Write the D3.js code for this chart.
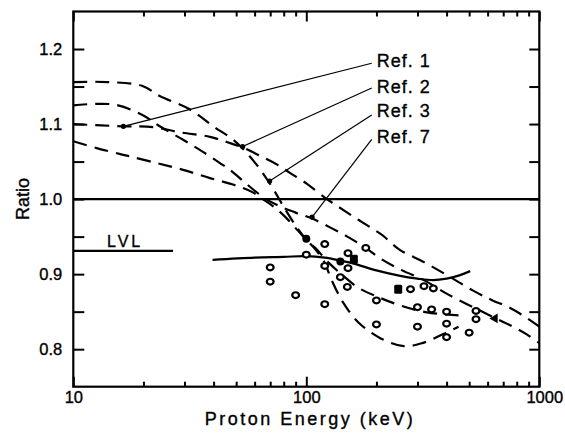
<!DOCTYPE html>
<html>
<head>
<meta charset="utf-8">
<script src="https://cdn.jsdelivr.net/npm/d3@7"></script>
<style>
body { margin: 0; background: #fff; }
text { font-family: "Liberation Sans", Arial, Helvetica, sans-serif; fill: #000; stroke: #000; stroke-width: 0.35px; }
</style>
</head>
<body>
<div id="chart"></div>
<script>
// ----------------------------------------------------------
// Datos (energia keV, ratio)
// ----------------------------------------------------------
const xMajorTicks = [10, 100, 1000];
const xMinorTicks = [20, 30, 40, 50, 60, 70, 80, 90, 200, 300, 400, 500, 600, 700, 800, 900];
const yLabelTicks = [0.8, 0.9, 1.0, 1.1, 1.2];
const yAllTicks = [0.8, 0.85, 0.9, 0.95, 1.0, 1.05, 1.1, 1.15, 1.2];

const dashedA = [[10,1.156],[14,1.156],[19.7,1.151],[23.6,1.137],[31.4,1.12],[39.9,1.097],[49.9,1.076],[60.8,1.047],[71.3,1.016],[80.2,0.989],[90.3,0.964],[100,0.946],[110,0.934],[125,0.915],[145,0.897],[167,0.882],[205,0.869],[255,0.858],[330,0.849],[450,0.845]];
const dashedB = [[10,1.125],[15,1.126],[19.8,1.112],[23.8,1.096],[29.6,1.079],[36,1.063],[42.6,1.048],[47,1.039],[55,1.021],[65,1.003],[75,0.992],[90,0.982],[106,0.974],[127,0.962],[150,0.95],[178,0.936],[210,0.92],[258,0.905],[320,0.892],[400,0.874],[520,0.856],[640,0.842],[760,0.831],[880,0.82],[1000,0.808]];
const dashedC = [[10,1.10],[16.4,1.097],[22,1.096],[28.7,1.089],[38.6,1.083],[45.6,1.076],[53,1.069],[63,1.058],[75,1.046],[85,1.035],[100,1.021],[120,1.002],[131,0.994],[155,0.979],[187,0.963],[212,0.952],[250,0.933],[320,0.916],[410,0.897],[520,0.878],[630,0.865],[750,0.855],[850,0.845],[1000,0.83]];
const dashedD = [[10,1.077],[12.6,1.068],[15.9,1.06],[18,1.056],[22.8,1.048],[29.6,1.039],[38.6,1.028],[50,1.018],[59,1.009],[65,1.0],[73,0.989],[82,0.975],[92,0.958],[100,0.946],[110,0.932],[120,0.915],[128,0.893],[144,0.862],[167,0.836],[207,0.815],[262,0.804],[314,0.808],[405,0.823],[450,0.83]];
const solidCalc = [[39.6,0.919],[60,0.922],[80,0.923],[100,0.924],[120,0.922],[140,0.918],[160,0.914],[200,0.905],[250,0.898],[300,0.894],[350,0.892],[400,0.894],[450,0.898],[505,0.904]];

const lvlLine = [[10,0.931],[26.8,0.931]];
const unityLine = [[10,1.0],[1000,1.0]];

const openPoints = [[70,0.909],[70,0.890],[90,0.872],[100,0.926],[120,0.940],[120,0.911],[120,0.860],[140,0.896],[151,0.928],[151,0.908],[150,0.883],[180,0.935],[200,0.865],[200,0.833],[280,0.880],[320,0.884],[351,0.881],[300,0.856],[345,0.853],[400,0.850],[300,0.830],[400,0.834],[400,0.816],[500,0.822],[535,0.851],[535,0.840]];
const filledCircles = [[100,0.947],[140,0.917]];
const filledSquares = [[160,0.920],[248,0.880]];
const filledTriangles = [[645,0.841]];

const refNames = ["Ref. 1", "Ref. 2", "Ref. 3", "Ref. 7"];
const refLabelY = [1.1756, 1.141, 1.109, 1.075];
const refLabelX = 200.5;
const refLineStartX = 190.9;
const refLineStartY = [1.181, 1.148, 1.112, 1.0796];
const refTargets = [[16.4,1.097],[53.3,1.070],[69.6,1.024],[105.9,0.976]];

// ----------------------------------------------------------
const width = 565;
const height = 433;
const margin = { top: 11.5, right: 25.7, bottom: 46.3, left: 73.3 };
const innerW = width - margin.left - margin.right;
const innerH = height - margin.top - margin.bottom;

const svg = d3.select("#chart").append("svg")
    .attr("width", width)
    .attr("height", height);
const g = svg.append("g")
    .attr("transform", `translate(${margin.left}, ${margin.top})`);

const x = d3.scaleLog().domain([10, 1000]).range([0, innerW]);
const y = d3.scaleLinear().domain([0.75, 1.25]).range([innerH, 0]);

// ejes (ticks hacia dentro)
const bottomMinor = g.append("g").attr("transform", `translate(0, ${innerH})`)
    .call(d3.axisBottom(x).tickValues(xMinorTicks).tickSize(-5).tickFormat(""));
const bottomMajor = g.append("g").attr("transform", `translate(0, ${innerH})`)
    .call(d3.axisBottom(x).tickValues(xMajorTicks).tickSize(-10).tickPadding(5).tickFormat(d3.format("d")));
const topMinor = g.append("g")
    .call(d3.axisTop(x).tickValues(xMinorTicks).tickSize(-5).tickFormat(""));
const topMajor = g.append("g")
    .call(d3.axisTop(x).tickValues(xMajorTicks).tickSize(-10).tickFormat(""));
const leftAxis = g.append("g")
    .call(d3.axisLeft(y).tickValues(yAllTicks).tickSize(-11).tickPadding(11)
        .tickFormat(d => yLabelTicks.some(v => Math.abs(v - d) < 1e-9) ? d3.format(".1f")(d) : ""));
const rightAxis = g.append("g").attr("transform", `translate(${innerW}, 0)`)
    .call(d3.axisRight(y).tickValues(yAllTicks).tickSize(-10).tickFormat(""));

[bottomMinor, bottomMajor, topMinor, topMajor, leftAxis, rightAxis].forEach(a => {
    a.select(".domain").remove();
    a.selectAll("line").attr("stroke", "#000").attr("stroke-width", 2);
    a.selectAll("text").attr("font-size", 16.5).attr("fill", "#000")
        .style("font-family", '"Liberation Sans", Arial, sans-serif');
});
// la etiqueta 1000 queda algo desplazada a la derecha en el original
bottomMajor.selectAll("text").filter(d => d === 1000).attr("dx", 5);

// marco
g.append("rect")
    .attr("x", 0).attr("y", 0)
    .attr("width", innerW).attr("height", innerH)
    .attr("fill", "none").attr("stroke", "#000").attr("stroke-width", 2.2);

// lineas
const line = d3.line().x(d => x(d[0])).y(d => y(d[1])).curve(d3.curveCatmullRom.alpha(0.5));
const straight = d3.line().x(d => x(d[0])).y(d => y(d[1]));

[dashedA, dashedB, dashedC, dashedD].forEach(c => {
    g.append("path").datum(c)
        .attr("d", line)
        .attr("fill", "none").attr("stroke", "#000")
        .attr("stroke-width", 2.2).attr("stroke-dasharray", "14,8");
});

g.append("path").datum(solidCalc).attr("d", line)
    .attr("fill", "none").attr("stroke", "#000").attr("stroke-width", 2.2);
g.append("path").datum(unityLine).attr("d", straight)
    .attr("fill", "none").attr("stroke", "#000").attr("stroke-width", 2.2);
g.append("path").datum(lvlLine).attr("d", straight)
    .attr("fill", "none").attr("stroke", "#000").attr("stroke-width", 2.2);

g.append("text")
    .attr("x", x(13.95)).attr("y", y(0.9364))
    .attr("font-size", 16).attr("letter-spacing", 3)
    .text("LVL");

// referencias
refNames.forEach((name, i) => {
    g.append("line")
        .attr("x1", x(refLineStartX)).attr("y1", y(refLineStartY[i]))
        .attr("x2", x(refTargets[i][0])).attr("y2", y(refTargets[i][1]))
        .attr("stroke", "#000").attr("stroke-width", 1.2);
    g.append("circle")
        .attr("cx", x(refTargets[i][0])).attr("cy", y(refTargets[i][1]))
        .attr("r", 2.6).attr("fill", "#000");
    g.append("text")
        .attr("x", x(refLabelX)).attr("y", y(refLabelY[i]))
        .attr("font-size", 18).attr("letter-spacing", 1)
        .text(name);
});

// puntos experimentales
g.selectAll("ellipse.open").data(openPoints).enter().append("ellipse")
    .attr("cx", d => x(d[0])).attr("cy", d => y(d[1]))
    .attr("rx", 3.4).attr("ry", 2.9)
    .attr("fill", "#fff").attr("stroke", "#000").attr("stroke-width", 2.2);
g.selectAll("circle.filled").data(filledCircles).enter().append("circle")
    .attr("cx", d => x(d[0])).attr("cy", d => y(d[1]))
    .attr("r", 4).attr("fill", "#000");
g.selectAll("rect.filled").data(filledSquares).enter().append("rect")
    .attr("x", d => x(d[0]) - 4).attr("y", d => y(d[1]) - 4.5)
    .attr("width", 8).attr("height", 9).attr("rx", 1.5).attr("fill", "#000");
g.selectAll("path.tri").data(filledTriangles).enter().append("path")
    .attr("d", d3.symbol().type(d3.symbolTriangle).size(40))
    .attr("transform", d => `translate(${x(d[0])}, ${y(d[1])}) rotate(-90)`)
    .attr("fill", "#000");

// titulos de ejes
svg.append("text")
    .attr("x", 310).attr("y", 425)
    .attr("text-anchor", "middle")
    .attr("font-size", 18).attr("letter-spacing", 2.5)
    .text("Proton Energy (keV)");
svg.append("text")
    .attr("transform", "translate(28.5, 199) rotate(-90)")
    .attr("text-anchor", "middle")
    .attr("font-size", 18)
    .text("Ratio");
</script>
</body>
</html>
